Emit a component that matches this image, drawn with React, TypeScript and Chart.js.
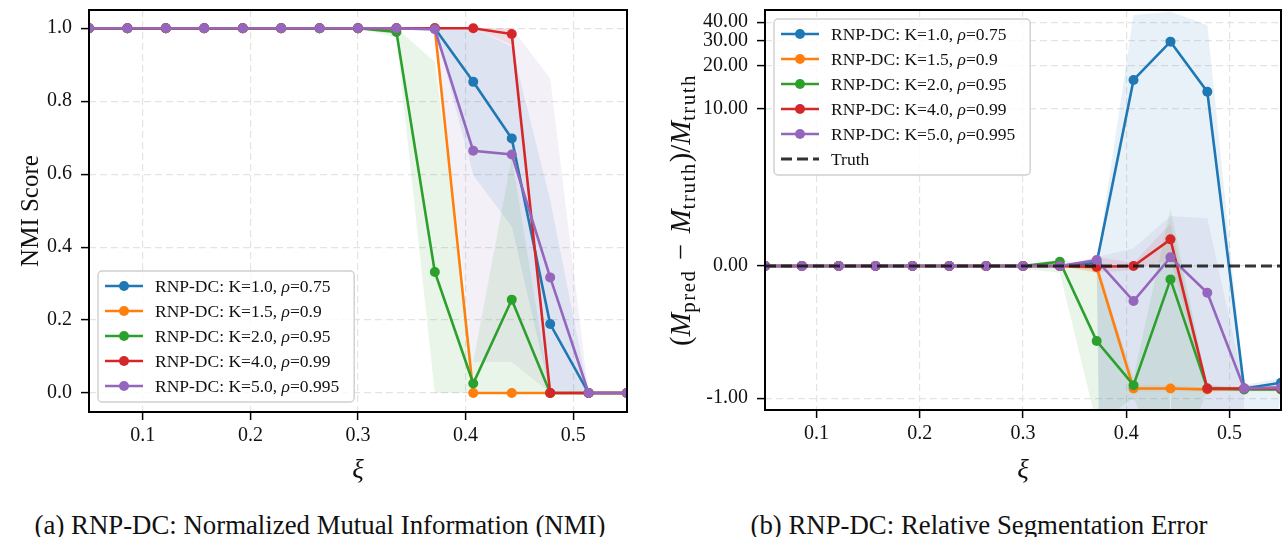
import React, { useEffect, useRef } from 'react';
import { Chart, registerables, LinearScale } from 'chart.js';

Chart.register(...registerables);

// ---------------- data ----------------
const XI = [0.05, 0.0857, 0.1214, 0.1571, 0.1929, 0.2286, 0.2643, 0.3, 0.3357, 0.3714, 0.4071, 0.4429, 0.4786, 0.5143, 0.55];
const X_TICKS = [0.1, 0.2, 0.3, 0.4, 0.5];
const NMI_TICKS = [0, 0.2, 0.4, 0.6, 0.8, 1.0];
const REL_TICKS = [-1, 0, 10, 20, 30, 40];

const SERIES_LABELS = ['RNP-DC: K=1.0, ρ=0.75', 'RNP-DC: K=1.5, ρ=0.9', 'RNP-DC: K=2.0, ρ=0.95', 'RNP-DC: K=4.0, ρ=0.99', 'RNP-DC: K=5.0, ρ=0.995'];
const TRUTH_LABEL = 'Truth';
const TRUTH_VALUE = 0;

// NMI (left panel): mean and shaded band (lower / upper)
const NMI_K10 = [1, 1, 1, 1, 1, 1, 1, 1, 1, 1, 0.853, 0.698, 0.189, 0, 0];
const NMI_K15 = [1, 1, 1, 1, 1, 1, 1, 1, 1, 1, 0, 0, 0, 0, 0];
const NMI_K20 = [1, 1, 1, 1, 1, 1, 1, 1, 0.99, 0.332, 0.026, 0.256, 0, 0, 0];
const NMI_K40 = [1, 1, 1, 1, 1, 1, 1, 1, 1, 1, 1, 0.984, 0, 0, 0];
const NMI_K50 = [1, 1, 1, 1, 1, 1, 1, 1, 1, 0.997, 0.664, 0.654, 0.317, 0, 0];

const NMI_K10_LO = [1, 1, 1, 1, 1, 1, 1, 1, 1, 1, 0.597, 0.456, 0, 0, 0];
const NMI_K10_HI = [1, 1, 1, 1, 1, 1, 1, 1, 1, 1, 1, 0.95, 0.53, 0, 0];
const NMI_K15_LO = [1, 1, 1, 1, 1, 1, 1, 1, 1, 1, 0, 0, 0, 0, 0];
const NMI_K15_HI = [1, 1, 1, 1, 1, 1, 1, 1, 1, 1, 0, 0, 0, 0, 0];
const NMI_K20_LO = [1, 1, 1, 1, 1, 1, 1, 1, 0.975, 0, 0, 0, 0, 0, 0];
const NMI_K20_HI = [1, 1, 1, 1, 1, 1, 1, 1, 1, 0.908, 0.085, 0.648, 0, 0, 0];
const NMI_K40_LO = [1, 1, 1, 1, 1, 1, 1, 1, 1, 1, 1, 0.955, 0, 0, 0];
const NMI_K40_HI = [1, 1, 1, 1, 1, 1, 1, 1, 1, 1, 1, 1, 0, 0, 0];
const NMI_K50_LO = [1, 1, 1, 1, 1, 1, 1, 1, 1, 1, 0.085, 0.085, 0, 0, 0];
const NMI_K50_HI = [1, 1, 1, 1, 1, 1, 1, 1, 1, 1, 1, 1, 0.863, 0, 0];

// Relative segmentation error (right panel)
const REL_K10 = [0, 0, 0, 0, 0, 0, 0, 0, 0, 0.05, 16.0, 29.45, 13.2, -0.927, -0.884];
const REL_K15 = [0, 0, 0, 0, 0, 0, 0, 0, 0, -0.01, -0.927, -0.927, -0.934, -0.93, -0.93];
const REL_K20 = [0, 0, 0, 0, 0, 0, 0, 0, 0.068, -0.568, -0.902, -0.101, -0.927, -0.934, -0.934];
const REL_K40 = [0, 0, 0, 0, 0, 0, 0, 0, 0, -0.005, 0, 0.502, -0.927, -0.927, -0.927];
const REL_K50 = [0, 0, 0, 0, 0, 0, 0, 0, 0, 0.096, -0.265, 0.142, -0.202, -0.927, -0.919];

const REL_K10_LO = [0, 0, 0, 0, 0, 0, 0, 0, 0, 0, -20, -0.8, -20, -3, -0.95];
const REL_K10_HI = [0, 0, 0, 0, 0, 0, 0, 0, 0, 0.05, 44.7, 47, 38.3, -0.9, -0.85];
const REL_K15_LO = [0, 0, 0, 0, 0, 0, 0, 0, 0, -0.05, -0.95, -0.95, -0.95, -0.95, -0.95];
const REL_K15_HI = [0, 0, 0, 0, 0, 0, 0, 0, 0, 0.1, -0.9, -0.9, -0.92, -0.91, -0.91];
const REL_K20_LO = [0, 0, 0, 0, 0, 0, 0, -0.02, -0.05, -1.2, -1.0, -1.61, -0.95, -0.94, -0.94];
const REL_K20_HI = [0, 0, 0, 0, 0, 0, 0, 0.02, 0.1, 0.0, -0.84, 1.41, -0.9, -0.93, -0.93];
const REL_K40_LO = [0, 0, 0, 0, 0, 0, 0, 0, 0, -0.05, -0.03, 0.1, -0.95, -0.93, -0.93];
const REL_K40_HI = [0, 0, 0, 0, 0, 0, 0, 0, 0, 0.15, 0.05, 0.915, -0.9, -0.92, -0.92];
const REL_K50_LO = [0, 0, 0, 0, 0, 0, 0, 0, 0, 0.0, -20, -0.86, -20, -0.95, -0.93];
const REL_K50_HI = [0, 0, 0, 0, 0, 0, 0, 0, 0, 0.15, 0.31, 1.14, 1.07, -0.9, -0.9];

// ---------------- styles ----------------
const COLORS = ['#1f77b4', '#ff7f0e', '#2ca02c', '#d62728', '#9467bd'];
const FONT = '"Liberation Serif", "DejaVu Serif", serif';
const TEXT = '#111111';
const GRID = '#e4e4e4';

function rgba(hex: string, a: number) {
  const n = parseInt(hex.slice(1), 16);
  return `rgba(${(n >> 16) & 255},${(n >> 8) & 255},${n & 255},${a})`;
}

// y-scale for relative error: log10(1+y) above zero, linear below zero
const NEG_SLOPE = 0.873;
const fwd = (v: number) => (v >= 0 ? Math.log10(1 + v) : v * NEG_SLOPE);
const inv = (t: number) => (t >= 0 ? Math.pow(10, t) - 1 : t / NEG_SLOPE);

class Log1pScale extends (LinearScale as any) {
  static id = 'log1p';
  static defaults = (LinearScale as any).defaults;
  configure() {
    super.configure();
    (this as any)._tMin = fwd((this as any).min);
    (this as any)._tMax = fwd((this as any).max);
  }
  buildTicks() {
    return REL_TICKS.map((v) => ({ value: v }));
  }
  getPixelForValue(value: number) {
    const s = this as any;
    return s.getPixelForDecimal((fwd(value) - s._tMin) / (s._tMax - s._tMin));
  }
  getValueForPixel(pixel: number) {
    const s = this as any;
    return inv(s._tMin + s.getDecimalForPixel(pixel) * (s._tMax - s._tMin));
  }
}
Chart.register(Log1pScale as any);

// ---------------- helpers ----------------
function buildDatasets(means: number[][], los: number[][], his: number[][]) {
  const ds: any[] = [];
  means.forEach((_, k) => {
    const color = COLORS[k];
    ds.push({
      label: '_lo' + k,
      data: XI.map((x, i) => ({ x, y: los[k][i] })),
      borderColor: 'rgba(0,0,0,0)',
      borderWidth: 0,
      pointRadius: 0,
      fill: false,
      order: 30 + k,
    });
    ds.push({
      label: '_hi' + k,
      data: XI.map((x, i) => ({ x, y: his[k][i] })),
      borderColor: 'rgba(0,0,0,0)',
      borderWidth: 0,
      pointRadius: 0,
      backgroundColor: rgba(color, 0.1),
      fill: '-1',
      order: 30 + k,
    });
  });
  means.forEach((vals, k) => {
    const color = COLORS[k];
    ds.push({
      label: SERIES_LABELS[k],
      data: XI.map((x, i) => ({ x, y: vals[i] })),
      borderColor: color,
      backgroundColor: color,
      borderWidth: 2.6,
      pointRadius: 5,
      pointHoverRadius: 5,
      pointBackgroundColor: color,
      pointBorderColor: color,
      pointBorderWidth: 0,
      fill: false,
      tension: 0,
      clip: 0,
      order: 10 - k,
    });
  });
  return ds;
}

function drawLabel(ctx: CanvasRenderingContext2D, text: string, x: number, y: number, size: number, draw: boolean) {
  const parts = text.split('ρ');
  let cx = x;
  parts.forEach((p, i) => {
    if (i > 0) {
      ctx.font = `italic ${size}px ${FONT}`;
      if (draw) ctx.fillText('ρ', cx, y);
      cx += ctx.measureText('ρ').width;
    }
    ctx.font = `${size}px ${FONT}`;
    if (draw) ctx.fillText(p, cx, y);
    cx += ctx.measureText(p).width;
  });
  return cx - x;
}

function roundRectPath(ctx: CanvasRenderingContext2D, x: number, y: number, w: number, h: number, r: number) {
  ctx.beginPath();
  ctx.moveTo(x + r, y);
  ctx.lineTo(x + w - r, y);
  ctx.arcTo(x + w, y, x + w, y + r, r);
  ctx.lineTo(x + w, y + h - r);
  ctx.arcTo(x + w, y + h, x + w - r, y + h, r);
  ctx.lineTo(x + r, y + h);
  ctx.arcTo(x, y + h, x, y + h - r, r);
  ctx.lineTo(x, y + r);
  ctx.arcTo(x, y, x + r, y, r);
  ctx.closePath();
}

function drawLegend(chart: any, withTruth: boolean, anchor: 'lower' | 'upper') {
  const ctx: CanvasRenderingContext2D = chart.ctx;
  const a = chart.chartArea;
  const size = 17.5;
  const entries = SERIES_LABELS.map((l, k) => ({ label: l, color: COLORS[k], truth: false }));
  if (withTruth) entries.push({ label: TRUTH_LABEL, color: '#333333', truth: true });
  ctx.save();
  const widths = entries.map((e) => drawLabel(ctx, e.label, 0, 0, size, false));
  const boxW = 57 + Math.max(...widths) + 15;
  const rowH = 25;
  const boxH = entries.length * rowH + 6;
  const bx = a.left + 9;
  const by = anchor === 'lower' ? a.bottom - 10 - boxH : a.top + 9;
  roundRectPath(ctx, bx, by, boxW, boxH, 4);
  ctx.fillStyle = 'rgba(255,255,255,0.82)';
  ctx.fill();
  ctx.lineWidth = 1.4;
  ctx.strokeStyle = '#cfcfcf';
  ctx.stroke();
  entries.forEach((e, k) => {
    const cy = by + 15 + rowH * k;
    ctx.beginPath();
    ctx.moveTo(bx + 7, cy);
    ctx.lineTo(bx + 45, cy);
    ctx.strokeStyle = e.color;
    if (e.truth) {
      ctx.lineWidth = 3;
      ctx.setLineDash([11, 5]);
    } else {
      ctx.lineWidth = 2.6;
      ctx.setLineDash([]);
    }
    ctx.stroke();
    ctx.setLineDash([]);
    if (!e.truth) {
      ctx.beginPath();
      ctx.arc(bx + 26, cy, 5, 0, Math.PI * 2);
      ctx.fillStyle = e.color;
      ctx.fill();
    }
    ctx.fillStyle = TEXT;
    ctx.textBaseline = 'middle';
    ctx.textAlign = 'left';
    drawLabel(ctx, e.label, bx + 57, cy + 1, size, true);
  });
  ctx.restore();
}

function drawFrame(chart: any) {
  const ctx: CanvasRenderingContext2D = chart.ctx;
  const a = chart.chartArea;
  ctx.save();
  ctx.lineWidth = 2;
  ctx.strokeStyle = '#000';
  ctx.strokeRect(a.left, a.top, a.right - a.left, a.bottom - a.top);
  ctx.restore();
}

function drawRelTitle(chart: any) {
  const ctx: CanvasRenderingContext2D = chart.ctx;
  const a = chart.chartArea;
  const big = 28.5;
  const sub = 21;
  const segs: { t: string; f: string; dy: number; ls: number }[] = [
    { t: '(', f: `${big}px ${FONT}`, dy: 0, ls: 0 },
    { t: 'M', f: `italic ${big}px ${FONT}`, dy: 0, ls: 0 },
    { t: 'pred', f: `${sub}px ${FONT}`, dy: 6, ls: 1.5 },
    { t: ' \u2212 ', f: `${big}px ${FONT}`, dy: 0, ls: 2 },
    { t: 'M', f: `italic ${big}px ${FONT}`, dy: 0, ls: 0 },
    { t: 'truth', f: `${sub}px ${FONT}`, dy: 6, ls: 1.5 },
    { t: ')/', f: `${big}px ${FONT}`, dy: 0, ls: 0 },
    { t: 'M', f: `italic ${big}px ${FONT}`, dy: 0, ls: 0 },
    { t: 'truth', f: `${sub}px ${FONT}`, dy: 6, ls: 1.5 },
  ];
  ctx.save();
  const anyCtx = ctx as any;
  const widths = segs.map((s) => {
    ctx.font = s.f;
    anyCtx.letterSpacing = `${s.ls}px`;
    return ctx.measureText(s.t).width;
  });
  const total = widths.reduce((p, c) => p + c, 0);
  ctx.translate(43, (a.top + a.bottom) / 2);
  ctx.rotate(-Math.PI / 2);
  ctx.fillStyle = TEXT;
  ctx.textBaseline = 'middle';
  ctx.textAlign = 'left';
  let x = -total / 2;
  segs.forEach((s, i) => {
    ctx.font = s.f;
    anyCtx.letterSpacing = `${s.ls}px`;
    ctx.fillText(s.t, x, s.dy);
    x += widths[i];
  });
  anyCtx.letterSpacing = '0px';
  ctx.restore();
}

const tickFont = { family: FONT, size: 20 };

function xScale(height: number) {
  return {
    type: 'linear',
    min: 0.05,
    max: 0.55,
    afterBuildTicks: (s: any) => {
      s.ticks = X_TICKS.map((v) => ({ value: v }));
    },
    ticks: { callback: (v: any) => Number(v).toFixed(1), font: tickFont, color: TEXT, padding: 4, maxRotation: 0, autoSkip: false },
    grid: { color: GRID, lineWidth: 1.2, tickLength: 8, tickColor: '#000', tickWidth: 1.5, tickBorderDash: [] },
    border: { display: false, dash: [7, 4] },
    title: { display: true, text: 'ξ', color: TEXT, font: { family: FONT, size: 27, style: 'italic' }, padding: { top: 0, bottom: 3 } },
    afterFit: (s: any) => {
      s.height = height;
      s.paddingLeft = 0;
      s.paddingRight = 0;
    },
  };
}

function NmiChart() {
  const ref = useRef<HTMLCanvasElement>(null);
  useEffect(() => {
    const means = [NMI_K10, NMI_K15, NMI_K20, NMI_K40, NMI_K50];
    const los = [NMI_K10_LO, NMI_K15_LO, NMI_K20_LO, NMI_K40_LO, NMI_K50_LO];
    const his = [NMI_K10_HI, NMI_K15_HI, NMI_K20_HI, NMI_K40_HI, NMI_K50_HI];
    const chart = new Chart(ref.current as HTMLCanvasElement, {
      type: 'line',
      data: { datasets: buildDatasets(means, los, his) },
      options: {
        animation: false,
        responsive: false,
        devicePixelRatio: 1,
        events: [],
        layout: { padding: { left: 0, right: 13, top: 10, bottom: 0 } },
        plugins: { legend: { display: false }, tooltip: { enabled: false } },
        scales: {
          x: xScale(78) as any,
          y: {
            type: 'linear',
            min: -0.052,
            max: 1.05,
            afterBuildTicks: (s: any) => {
              s.ticks = NMI_TICKS.map((v) => ({ value: v }));
            },
            ticks: { callback: (v: any) => Number(v).toFixed(1), font: tickFont, color: TEXT, padding: 9, autoSkip: false },
            grid: { color: GRID, lineWidth: 1.2, tickLength: 8, tickColor: '#000', tickWidth: 1.5, tickBorderDash: [] },
            border: { display: false, dash: [7, 4] },
            title: { display: true, text: 'NMI Score', color: TEXT, font: { family: FONT, size: 25 }, padding: { top: 16, bottom: 0 } },
            afterFit: (s: any) => {
              s.width = 89;
              s.paddingTop = 0;
              s.paddingBottom = 0;
            },
          } as any,
        },
      },
      plugins: [
        {
          id: 'frameLegendNmi',
          afterDatasetsDraw: (c: any) => {
            drawFrame(c);
            drawLegend(c, false, 'lower');
          },
        },
      ],
    });
    return () => chart.destroy();
  }, []);
  return <canvas ref={ref} width={640} height={490} style={{ position: 'absolute', left: 0, top: 0 }} />;
}

function RelChart() {
  const ref = useRef<HTMLCanvasElement>(null);
  useEffect(() => {
    const means = [REL_K10, REL_K15, REL_K20, REL_K40, REL_K50];
    const los = [REL_K10_LO, REL_K15_LO, REL_K20_LO, REL_K40_LO, REL_K50_LO];
    const his = [REL_K10_HI, REL_K15_HI, REL_K20_HI, REL_K40_HI, REL_K50_HI];
    const datasets = buildDatasets(means, los, his);
    datasets.push({
      label: TRUTH_LABEL,
      data: [
        { x: XI[0], y: TRUTH_VALUE },
        { x: XI[XI.length - 1], y: TRUTH_VALUE },
      ],
      borderColor: 'rgba(20,20,20,0.85)',
      borderWidth: 3,
      borderDash: [11, 5],
      pointRadius: 0,
      fill: false,
      clip: 0,
      order: 0,
    });
    const chart = new Chart(ref.current as HTMLCanvasElement, {
      type: 'line',
      data: { datasets },
      options: {
        animation: false,
        responsive: false,
        devicePixelRatio: 1,
        events: [],
        layout: { padding: { left: 0, right: 1, top: 10, bottom: 0 } },
        plugins: { legend: { display: false }, tooltip: { enabled: false } },
        scales: {
          x: xScale(80) as any,
          y: {
            type: 'log1p',
            min: -1.09,
            max: 48.3,
            ticks: { callback: (v: any) => Number(v).toFixed(2), font: tickFont, color: TEXT, padding: 9, autoSkip: false },
            grid: { color: GRID, lineWidth: 1.2, tickLength: 8, tickColor: '#000', tickWidth: 1.5, tickBorderDash: [] },
            border: { display: false, dash: [7, 4] },
            afterFit: (s: any) => {
              s.width = 125;
              s.paddingTop = 0;
              s.paddingBottom = 0;
            },
          } as any,
        },
      },
      plugins: [
        {
          id: 'frameLegendRel',
          afterDatasetsDraw: (c: any) => {
            drawFrame(c);
            drawLegend(c, true, 'upper');
          },
          afterDraw: (c: any) => drawRelTitle(c),
        },
      ],
    });
    return () => chart.destroy();
  }, []);
  return <canvas ref={ref} width={646} height={490} style={{ position: 'absolute', left: 640, top: 0 }} />;
}

const captionStyle: React.CSSProperties = {
  position: 'absolute',
  top: 509,
  fontFamily: FONT,
  fontSize: 26.8,
  lineHeight: '32px',
  color: TEXT,
  whiteSpace: 'nowrap',
  transform: 'translateX(-50%)',
};

export default function App() {
  return (
    <div style={{ position: 'absolute', left: 0, top: 0, width: 1286, height: 537, background: '#fff', overflow: 'hidden' }}>
      <NmiChart />
      <RelChart />
      <div style={{ ...captionStyle, left: 320 }}>(a) RNP-DC: Normalized Mutual Information (NMI)</div>
      <div style={{ ...captionStyle, left: 979 }}>(b) RNP-DC: Relative Segmentation Error</div>
    </div>
  );
}
